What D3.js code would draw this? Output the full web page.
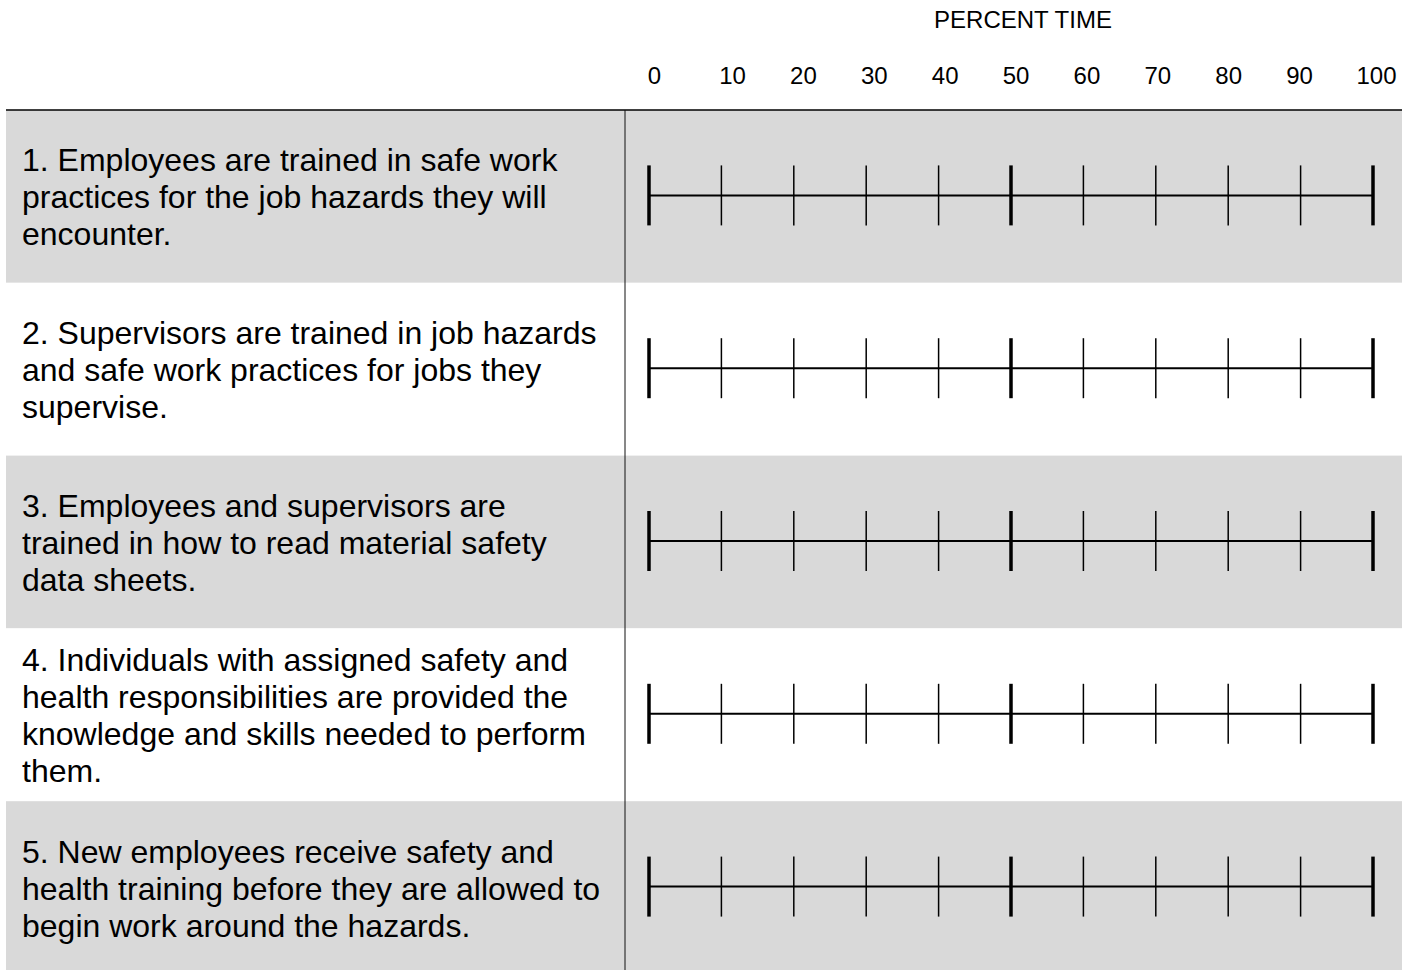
<!DOCTYPE html>
<html>
<head>
<meta charset="utf-8">
<script src="https://cdn.jsdelivr.net/npm/d3@7"></script>
<style>
  body { margin: 0; background: #fff; }
  svg { display: block; font-family: "Liberation Sans", Arial, sans-serif; }
</style>
</head>
<body>
<div class="vis"></div>
<script>
const axisTitle = "PERCENT TIME";
const tickValues = [0, 10, 20, 30, 40, 50, 60, 70, 80, 90, 100];
const majorTicks = [0, 50, 100];
const items = [
  ["1. Employees are trained in safe work", "practices for the job hazards they will", "encounter."],
  ["2. Supervisors are trained in job hazards", "and safe work practices for jobs they", "supervise."],
  ["3. Employees and supervisors are", "trained in how to read material safety", "data sheets."],
  ["4. Individuals with assigned safety and", "health responsibilities are provided the", "knowledge and skills needed to perform", "them."],
  ["5. New employees receive safety and", "health training before they are allowed to", "begin work around the hazards."]
];

const width = 1413, height = 970;
const tableTop = 110, rowH = 172.8;
const divider = 625, tableLeft = 6, tableRight = 1402;

const svg = d3.select(".vis").append("svg")
  .attr("width", width)
  .attr("height", height);

const x = d3.scaleLinear().domain([0, 100]).range([649, 1373]);
// header labels sit in their own cells, end ones pushed outward
const xLabel = d3.scaleLinear().domain([0, 10, 90, 100]).range([654, 732, 1299, 1376]);
const y = d3.scaleBand()
  .domain(items.map((d, i) => i))
  .range([tableTop, tableTop + rowH * items.length]);

// row backgrounds
svg.append("g")
  .selectAll("rect")
  .data(items)
  .join("rect")
  .attr("x", tableLeft)
  .attr("y", (d, i) => y(i))
  .attr("width", tableRight - tableLeft)
  .attr("height", y.bandwidth())
  .attr("fill", (d, i) => (i % 2 === 0 ? "#d9d9d9" : "#ffffff"));

// title and tick labels
svg.append("text")
  .attr("x", 1023)
  .attr("y", 28)
  .attr("text-anchor", "middle")
  .attr("font-size", 24)
  .text(axisTitle);

const axis = svg.append("g")
  .attr("transform", "translate(0,84)")
  .call(d3.axisTop(xLabel).tickValues(tickValues).tickSize(0).tickPadding(0));
axis.select(".domain").remove();
axis.selectAll("text")
  .attr("font-size", 24)
  .attr("font-family", "Liberation Sans, Arial, sans-serif")
  .attr("fill", "#000");

// borders
svg.append("line")
  .attr("x1", tableLeft).attr("x2", tableRight)
  .attr("y1", tableTop).attr("y2", tableTop)
  .attr("stroke", "#000").attr("stroke-width", 1.5);
svg.append("line")
  .attr("x1", divider).attr("x2", divider)
  .attr("y1", tableTop).attr("y2", height)
  .attr("stroke", "#111").attr("stroke-width", 1);

// item text
const labels = svg.append("g")
  .selectAll("text")
  .data(items)
  .join("text")
  .attr("font-size", 32)
  .attr("fill", "#000");
labels.each(function (lines, i) {
  const cy = y(i) + y.bandwidth() / 2;
  const lh = 37;
  const y0 = cy - (lines.length - 1) * lh / 2 + 12;
  d3.select(this).selectAll("tspan")
    .data(lines)
    .join("tspan")
    .attr("x", 22)
    .attr("y", (d, j) => y0 + j * lh)
    .text((d) => d);
});

// rating scales
const scales = svg.append("g")
  .selectAll("g")
  .data(items)
  .join("g")
  .attr("transform", (d, i) => `translate(0,${y(i) + y.bandwidth() / 2 - 1})`);

scales.append("line")
  .attr("x1", x(0)).attr("x2", x(100))
  .attr("stroke", "#000").attr("stroke-width", 2);

scales.selectAll(".tick")
  .data(tickValues)
  .join("line")
  .attr("class", "tick")
  .attr("x1", (d) => x(d)).attr("x2", (d) => x(d))
  .attr("y1", -30).attr("y2", 30)
  .attr("stroke", "#000")
  .attr("stroke-width", (d) => (majorTicks.includes(d) ? 3.5 : 1.5));
</script>
</body>
</html>
